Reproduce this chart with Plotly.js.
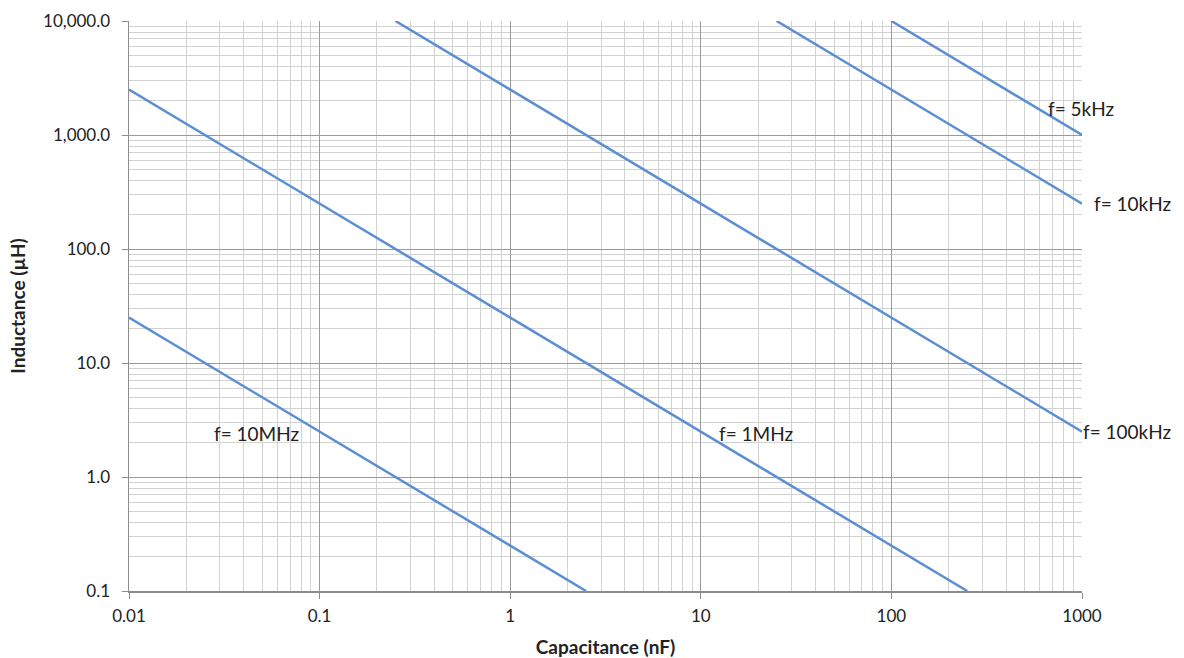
<!DOCTYPE html>
<html><head><meta charset="utf-8">
<script src="https://cdn.plot.ly/plotly-3.0.1.min.js"></script>
<style>html,body{margin:0;padding:0;background:#fff}#chart{width:1184px;height:658px}</style>
</head><body><div id="chart"></div>
<script>
// Values (capacitance nF, inductance µH) — line endpoints
const series_names = ["f= 5kHz", "f= 10kHz", "f= 100kHz", "f= 1MHz", "f= 10MHz"];
const cap_5k = [100, 1000];      const ind_5k = [10000, 1000];
const cap_10k = [25, 1000];      const ind_10k = [10000, 250];
const cap_100k = [0.25, 1000];   const ind_100k = [10000, 2.5];
const cap_1M = [0.01, 250];      const ind_1M = [2500, 0.1];
const cap_10M = [0.01, 2.5];     const ind_10M = [25, 0.1];

const x_tickvals = [0.01, 0.1, 1, 10, 100, 1000];
const x_ticktext = ["0.01", "0.1", "1", "10", "100", "1000"];
const y_tickvals = [0.1, 1, 10, 100, 1000, 10000];
const y_ticktext = ["0.1", "1.0", "10.0", "100.0", "1,000.0", "10,000.0"];

const FONT = "Lato, 'Open Sans', sans-serif";
const TXT = "#222222";
const lineColor = "#5b8fd2";
const caps = [cap_5k, cap_10k, cap_100k, cap_1M, cap_10M];
const inds = [ind_5k, ind_10k, ind_100k, ind_1M, ind_10M];
const traces = caps.map((c, i) => ({
  x: c, y: inds[i], name: series_names[i], type: "scatter", mode: "lines",
  line: {color: lineColor, width: 2.5}, showlegend: false, hoverinfo: "skip"
}));

// label positions (fractions of the plot area)
const ann = [
  {t: series_names[0], x: 0.962, y: 0.847},
  {t: series_names[1], x: 1.011, y: 0.679},
  {t: series_names[2], x: 0.999, y: 0.279},
  {t: series_names[3], x: 0.617, y: 0.277},
  {t: series_names[4], x: 0.087, y: 0.277}
].map(a => ({text: a.t, x: a.x, y: a.y, xref: "paper", yref: "paper", xanchor: "left", yanchor: "middle",
  showarrow: false, font: {family: FONT, size: 19, color: TXT}}));

const gridMajor = "#9a9a9a", gridMinor = "#d2d2d2";
const layout = {
  width: 1184, height: 658,
  margin: {l: 129, r: 102, t: 21, b: 67, pad: 0},
  paper_bgcolor: "#fff", plot_bgcolor: "#fff",
  font: {family: FONT, size: 17, color: TXT},
  xaxis: {
    type: "log", range: [-2, 3], tickmode: "array", tickvals: x_tickvals, ticktext: x_ticktext,
    showgrid: true, gridcolor: gridMajor, gridwidth: 1,
    showline: true, linecolor: "#8c8c8c", linewidth: 1.5,
    ticks: "outside", ticklen: 6, tickcolor: "#8c8c8c", ticklabelstandoff: 3,
    minor: {dtick: "D1", showgrid: true, gridcolor: gridMinor, gridwidth: 1, ticks: ""},
    tickfont: {family: FONT, size: 17, color: TXT},
    zeroline: false,
    title: {text: "<b>Capacitance (nF)</b>", font: {family: FONT, size: 19, color: TXT}, standoff: 18}
  },
  yaxis: {
    type: "log", range: [-1, 4], tickmode: "array", tickvals: y_tickvals, ticktext: y_ticktext,
    showgrid: true, gridcolor: gridMajor, gridwidth: 1,
    showline: true, linecolor: "#8c8c8c", linewidth: 1.5,
    ticks: "outside", ticklen: 6, tickcolor: "#8c8c8c", ticklabelstandoff: 8,
    minor: {dtick: "D1", showgrid: true, gridcolor: gridMinor, gridwidth: 1, ticks: ""},
    tickfont: {family: FONT, size: 17, color: TXT},
    zeroline: false,
    title: {text: "<b>Inductance (µH)</b>", font: {family: FONT, size: 19, color: TXT}, standoff: 12}
  },
  annotations: ann
};
Plotly.newPlot("chart", traces, layout, {staticPlot: true, displayModeBar: false});
</script></body></html>
